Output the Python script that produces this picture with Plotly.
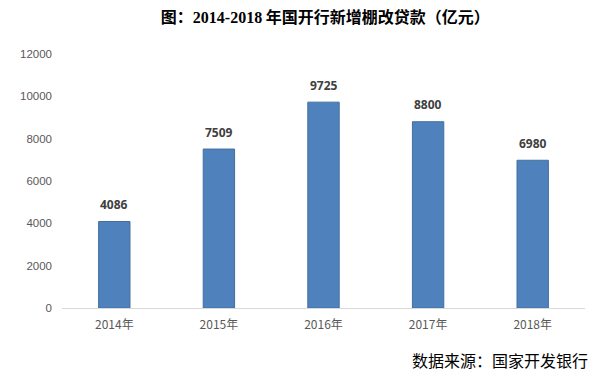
import plotly.graph_objects as go

years = ["2014年", "2015年", "2016年", "2017年", "2018年"]
loans = [4086, 7509, 9725, 8800, 6980]
y_ticks = [0, 2000, 4000, 6000, 8000, 10000, 12000]
y_tick_text = [str(v) for v in y_ticks]

fig = go.Figure()
fig.add_trace(go.Bar(
    x=years, y=loans,
    marker=dict(color="#4F81BD", line=dict(color="#41709F", width=1)),
))

for yr, v in zip(years, loans):
    fig.add_annotation(
        x=yr, y=v, text=f"<b>{v}</b>", showarrow=False,
        xanchor="center", yanchor="middle", yshift=17,
        font=dict(family="Noto Sans, Liberation Sans", size=12, color="#404040"),
    )

fig.add_annotation(
    text="数据来源：国家开发银行", xref="paper", yref="paper",
    x=1.009, y=-0.205, xanchor="right", yanchor="middle", showarrow=False,
    font=dict(family="Noto Sans CJK SC", size=16, color="#000000"),
)

fig.update_layout(
    width=592, height=368,
    margin=dict(l=43, r=15, t=46, b=68),
    paper_bgcolor="white", plot_bgcolor="white",
    bargap=0.70, showlegend=False,
    title=dict(
        text="<b>图：<span style='font-family:Liberation Serif'>2014-2018</span> 年国开行新增棚改贷款（亿元）</b>",
        x=0.536, xanchor="center", y=0.974, yanchor="middle",
        font=dict(family="Noto Sans CJK SC", size=16, color="#000000"),
    ),
    xaxis=dict(
        showgrid=False, showline=True, linecolor="#D9D9D9", linewidth=1,
        ticks="", ticklabelstandoff=6,
        tickfont=dict(family="Noto Sans CJK SC", size=12, color="#595959"),
    ),
    yaxis=dict(
        range=[0, 12000], tickvals=y_ticks, ticktext=y_tick_text,
        showgrid=False, zeroline=False, showline=False, ticks="",
        ticklabelstandoff=9,
        tickfont=dict(family="Liberation Sans", size=11.5, color="#595959"),
    ),
)

fig.write_html("out.html")
